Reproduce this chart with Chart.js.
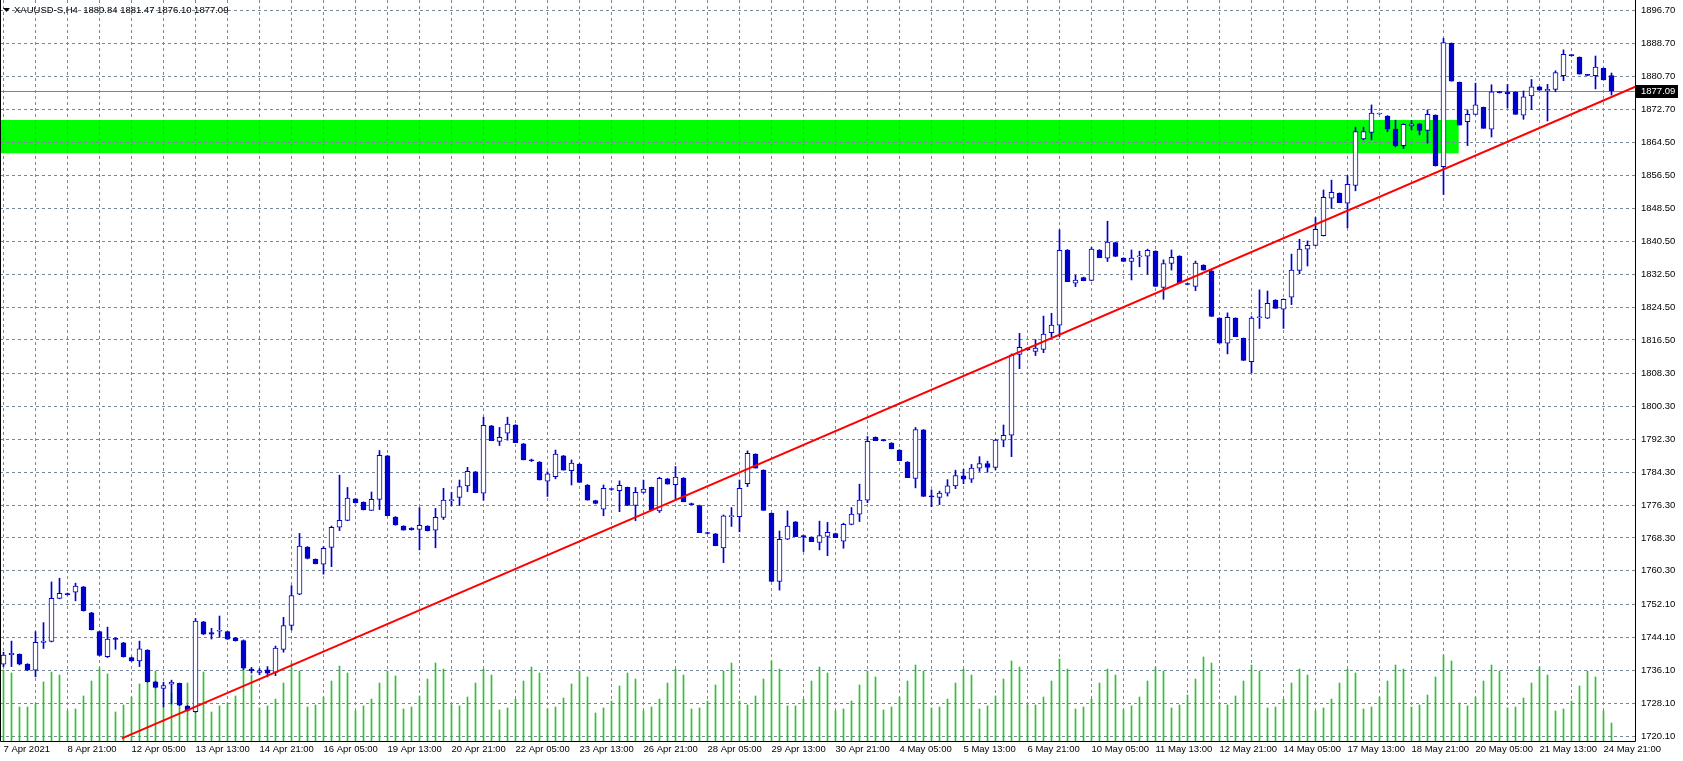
<!DOCTYPE html>
<html>
<head>
<meta charset="utf-8">
<script src="https://cdn.jsdelivr.net/npm/chart.js@4.4.1/dist/chart.umd.min.js"></script>
<style>
  html, body { margin: 0; padding: 0; background: #fff; }
  #wrap { width: 1683px; height: 761px; }
</style>
</head>
<body>
<div id="wrap"><canvas id="chart" width="1683" height="761"></canvas></div>
<script>
var symbolTitle = 'XAUUSD-S,H4  1880.84 1881.47 1876.10 1877.09';

// one label every 8 H4 bars, starting at bar 0
var timeLabels = [
  '7 Apr 2021', '8 Apr 21:00', '12 Apr 05:00', '13 Apr 13:00', '14 Apr 21:00',
  '16 Apr 05:00', '19 Apr 13:00', '20 Apr 21:00', '22 Apr 05:00', '23 Apr 13:00',
  '26 Apr 21:00', '28 Apr 05:00', '29 Apr 13:00', '30 Apr 21:00', '4 May 05:00',
  '5 May 13:00', '6 May 21:00', '10 May 05:00', '11 May 13:00', '12 May 21:00',
  '14 May 05:00', '17 May 13:00', '18 May 21:00', '20 May 05:00', '21 May 13:00',
  '24 May 21:00'
];

var priceTicks = [
  1896.70, 1888.70, 1880.70, 1872.70, 1864.50, 1856.50, 1848.50, 1840.50,
  1832.50, 1824.50, 1816.50, 1808.30, 1800.30, 1792.30, 1784.30, 1776.30,
  1768.30, 1760.30, 1752.10, 1744.10, 1736.10, 1728.10, 1720.10
];

var opens = [
  1737.6, 1739.9, 1740.0, 1737.6, 1736.1, 1742.9, 1743.1, 1753.6, 1754.7, 1755.1,
  1756.4, 1750.1, 1745.5, 1739.4, 1743.9, 1742.8, 1739.2, 1738.4, 1741.0, 1733.3,
  1731.7, 1732.7, 1732.9, 1727.4, 1726.0, 1747.9, 1745.3, 1745.6, 1745.5, 1744.0,
  1743.3, 1736.4, 1735.6, 1736.2, 1735.6, 1741.2, 1747.0, 1754.6, 1766.1, 1763.1,
  1761.9, 1766.0, 1770.9, 1772.6, 1777.8, 1777.0, 1775.0, 1777.7, 1788.3, 1773.4,
  1771.2, 1770.7, 1770.4, 1771.2, 1770.2, 1773.3, 1777.4, 1778.2, 1781.0, 1784.4,
  1779.2, 1795.6, 1791.8, 1793.8, 1795.8, 1791.2, 1787.3, 1786.8, 1782.1, 1783.2,
  1788.3, 1784.7, 1786.3, 1781.2, 1777.4, 1775.3, 1780.2, 1779.8, 1780.6, 1776.2,
  1779.4, 1780.6, 1774.9, 1782.7, 1781.3, 1782.9, 1776.7, 1776.2, 1769.6, 1769.3,
  1765.9, 1773.5, 1773.5, 1781.5, 1788.7, 1784.8, 1774.3, 1757.7, 1768.0, 1772.2,
  1768.9, 1768.5, 1767.2, 1768.7, 1769.4, 1767.5, 1771.6, 1774.1, 1777.5, 1792.8,
  1792.1, 1791.4, 1789.7, 1786.8, 1782.8, 1794.6, 1778.4, 1778.2, 1779.2, 1781.0,
  1783.4, 1782.6, 1785.3, 1786.4, 1785.5, 1792.1, 1793.3, 1813.0, 1814.5, 1813.7,
  1814.2, 1818.3, 1820.1, 1838.4, 1830.3, 1831.7, 1831.0, 1838.4, 1836.4, 1840.2,
  1836.4, 1835.6, 1836.7, 1836.9, 1838.1, 1829.3, 1835.1, 1836.9, 1830.2, 1829.5,
  1834.7, 1833.3, 1821.8, 1815.7, 1821.8, 1816.9, 1811.2, 1821.9, 1821.8, 1826.2,
  1824.0, 1826.9, 1833.4, 1838.6, 1839.5, 1841.9, 1851.0, 1852.2, 1849.8, 1854.1,
  1865.4, 1867.0, 1871.5, 1871.0, 1867.8, 1863.8, 1868.6, 1869.1, 1867.5, 1871.2,
  1858.7, 1888.7, 1879.2, 1869.6, 1871.4, 1873.1, 1867.8, 1876.9, 1876.8, 1876.8,
  1871.2, 1875.9, 1878.1, 1877.1, 1877.5, 1880.8, 1885.8, 1885.3, 1881.0, 1880.8,
  1882.6, 1880.84
];

var highs = [
  1740.5, 1743.2, 1740.1, 1737.7, 1745.5, 1747.7, 1757.6, 1758.5, 1754.9, 1757.3,
  1756.5, 1750.2, 1745.6, 1746.6, 1744.0, 1742.9, 1739.3, 1743.2, 1741.1, 1733.4,
  1733.2, 1733.7, 1733.0, 1727.5, 1748.7, 1748.0, 1746.3, 1749.3, 1745.6, 1744.1,
  1743.5, 1736.8, 1736.5, 1737.0, 1742.0, 1749.0, 1756.7, 1769.4, 1766.2, 1763.2,
  1766.2, 1771.2, 1783.6, 1780.6, 1777.9, 1777.1, 1779.5, 1789.6, 1788.4, 1773.5,
  1771.3, 1770.8, 1775.7, 1771.3, 1775.5, 1780.4, 1779.4, 1782.4, 1785.5, 1784.5,
  1797.7, 1795.7, 1795.2, 1797.7, 1795.9, 1791.3, 1787.5, 1786.9, 1784.4, 1789.7,
  1788.4, 1787.3, 1786.4, 1781.3, 1777.5, 1781.2, 1780.3, 1782.2, 1780.7, 1780.6,
  1782.4, 1780.7, 1783.1, 1782.8, 1785.7, 1783.0, 1776.8, 1776.3, 1769.7, 1769.4,
  1773.9, 1775.7, 1782.4, 1789.5, 1788.8, 1784.9, 1774.4, 1770.0, 1774.9, 1772.3,
  1769.0, 1768.6, 1772.4, 1772.1, 1769.5, 1771.9, 1775.7, 1781.4, 1793.0, 1792.9,
  1792.3, 1791.5, 1789.8, 1786.9, 1795.2, 1794.7, 1780.0, 1779.7, 1782.5, 1784.8,
  1785.0, 1786.2, 1788.1, 1787.0, 1792.3, 1795.8, 1813.1, 1818.1, 1814.6, 1816.6,
  1822.3, 1823.0, 1843.3, 1838.5, 1832.3, 1831.8, 1839.0, 1838.5, 1845.4, 1840.3,
  1836.5, 1838.4, 1838.1, 1838.6, 1838.2, 1836.0, 1838.4, 1837.0, 1830.3, 1835.7,
  1834.8, 1833.4, 1821.9, 1823.1, 1821.9, 1817.0, 1822.2, 1828.7, 1828.4, 1826.3,
  1826.5, 1837.4, 1841.0, 1840.6, 1846.3, 1853.0, 1855.4, 1852.3, 1856.5, 1868.3,
  1868.3, 1873.7, 1871.7, 1871.1, 1870.0, 1869.1, 1869.9, 1869.2, 1872.5, 1871.3,
  1889.9, 1888.8, 1879.3, 1872.5, 1879.0, 1873.2, 1878.6, 1877.0, 1878.7, 1876.9,
  1877.1, 1879.9, 1878.2, 1878.7, 1882.0, 1887.1, 1885.9, 1885.4, 1881.1, 1885.6,
  1882.7, 1881.47
];

var lows = [
  1737.0, 1737.0, 1737.4, 1736.0, 1734.5, 1741.4, 1743.0, 1753.5, 1754.4, 1753.0,
  1750.5, 1745.9, 1739.6, 1739.2, 1741.2, 1739.3, 1738.3, 1737.0, 1733.2, 1731.8,
  1727.2, 1727.9, 1727.5, 1726.2, 1725.9, 1744.8, 1743.7, 1744.1, 1743.6, 1743.2,
  1736.3, 1735.4, 1735.0, 1734.5, 1734.8, 1740.5, 1745.9, 1754.5, 1763.2, 1762.0,
  1759.5, 1761.3, 1770.1, 1772.5, 1776.8, 1775.1, 1775.0, 1775.2, 1773.7, 1771.4,
  1770.2, 1770.2, 1765.4, 1770.0, 1765.9, 1772.8, 1776.2, 1776.2, 1779.6, 1779.3,
  1777.5, 1792.0, 1790.8, 1792.1, 1791.5, 1787.3, 1786.9, 1782.4, 1778.4, 1782.7,
  1784.8, 1781.2, 1781.8, 1777.5, 1776.6, 1773.7, 1779.9, 1774.7, 1776.2, 1772.5,
  1779.2, 1775.1, 1774.5, 1781.4, 1777.5, 1777.1, 1776.4, 1769.6, 1769.3, 1766.4,
  1762.3, 1771.1, 1769.8, 1780.8, 1785.3, 1775.0, 1757.7, 1755.6, 1767.9, 1768.6,
  1765.0, 1767.4, 1765.4, 1764.0, 1768.4, 1765.8, 1771.5, 1772.3, 1776.9, 1792.0,
  1791.9, 1790.0, 1787.1, 1783.0, 1780.5, 1778.4, 1775.9, 1776.4, 1778.5, 1780.3,
  1781.5, 1781.8, 1784.5, 1784.3, 1784.9, 1790.5, 1788.1, 1809.5, 1814.0, 1812.7,
  1813.4, 1817.3, 1817.3, 1830.7, 1829.5, 1830.9, 1830.9, 1836.5, 1835.6, 1836.8,
  1835.6, 1831.1, 1834.3, 1832.5, 1829.5, 1826.4, 1833.5, 1830.4, 1829.9, 1828.5,
  1833.5, 1822.2, 1815.7, 1813.1, 1817.3, 1811.5, 1808.5, 1819.3, 1821.7, 1824.2,
  1819.3, 1825.1, 1832.6, 1834.5, 1839.4, 1841.8, 1848.5, 1849.9, 1843.8, 1852.8,
  1865.2, 1865.2, 1871.4, 1867.2, 1863.5, 1863.1, 1867.6, 1866.4, 1864.4, 1858.8,
  1851.9, 1879.5, 1868.8, 1863.8, 1871.3, 1868.0, 1865.9, 1876.6, 1873.0, 1871.4,
  1870.2, 1872.6, 1877.3, 1869.8, 1876.9, 1879.6, 1885.6, 1881.2, 1880.8, 1877.6,
  1879.8, 1876.10
];

var closes = [
  1739.8, 1740.2, 1737.6, 1736.2, 1742.9, 1743.2, 1753.6, 1754.8, 1754.5, 1756.6,
  1750.6, 1746.0, 1739.7, 1743.7, 1743.6, 1739.4, 1738.4, 1741.3, 1733.3, 1731.9,
  1732.4, 1733.2, 1727.6, 1726.3, 1748.1, 1744.9, 1744.9, 1745.8, 1743.7, 1743.3,
  1736.6, 1736.0, 1736.0, 1735.4, 1741.5, 1747.0, 1754.3, 1766.3, 1763.3, 1762.0,
  1765.8, 1770.9, 1772.6, 1778.0, 1776.9, 1775.2, 1777.7, 1788.4, 1773.7, 1771.5,
  1770.2, 1770.3, 1771.4, 1770.1, 1773.3, 1777.5, 1777.5, 1780.8, 1784.5, 1779.3,
  1795.7, 1792.0, 1792.8, 1796.0, 1791.5, 1787.3, 1787.1, 1782.4, 1783.9, 1788.7,
  1784.8, 1786.5, 1781.8, 1777.5, 1776.7, 1780.4, 1780.1, 1781.1, 1776.2, 1779.4,
  1780.2, 1775.1, 1782.8, 1781.4, 1783.1, 1777.1, 1776.4, 1769.6, 1769.4, 1766.4,
  1773.7, 1773.6, 1780.4, 1788.9, 1785.3, 1775.0, 1757.7, 1768.0, 1771.2, 1768.6,
  1768.5, 1767.4, 1768.9, 1769.7, 1768.4, 1771.6, 1774.1, 1777.5, 1791.8, 1792.0,
  1792.0, 1790.0, 1787.1, 1783.0, 1794.7, 1778.4, 1778.3, 1779.2, 1781.0, 1783.5,
  1782.6, 1785.3, 1786.4, 1785.5, 1792.1, 1793.3, 1812.8, 1814.7, 1814.1, 1814.5,
  1817.9, 1820.1, 1838.3, 1830.7, 1831.1, 1830.9, 1838.6, 1836.5, 1840.3, 1836.8,
  1835.6, 1836.4, 1836.8, 1838.3, 1829.5, 1835.1, 1836.6, 1830.4, 1830.0, 1835.2,
  1833.5, 1822.2, 1815.7, 1822.0, 1817.3, 1811.5, 1821.8, 1822.0, 1825.4, 1824.2,
  1826.4, 1833.5, 1838.6, 1839.5, 1843.4, 1851.2, 1852.4, 1849.9, 1854.4, 1867.2,
  1867.2, 1871.7, 1871.6, 1867.8, 1863.8, 1869.0, 1869.1, 1867.5, 1871.4, 1858.9,
  1888.9, 1879.5, 1868.8, 1871.4, 1873.7, 1868.0, 1876.9, 1876.7, 1876.4, 1871.4,
  1875.7, 1878.1, 1877.3, 1877.5, 1881.6, 1886.0, 1885.7, 1881.2, 1880.9, 1882.9,
  1879.8, 1877.09
];

// tick volume, shown at the foot of the price window
var volumes = [
  7100, 6800, 3400, 3400, 3700, 5900, 6900, 6600, 3000, 3200,
  4500, 6000, 7300, 6700, 2900, 3600, 4400, 5700, 6400, 7000,
  3400, 4800, 4800, 5800, 8000, 6900, 2900, 3500, 3800, 4500,
  7200, 6600, 3300, 3500, 4200, 5800, 7800, 7000, 3400, 3600,
  4400, 6000, 7500, 6800, 3000, 3500, 4200, 5800, 7000, 6500,
  3200, 3400, 4500, 6200, 7800, 7200, 3600, 3500, 4400, 5800,
  7200, 6600, 3100, 3300, 4200, 6000, 7400, 6800, 3200, 3400,
  4300, 5700, 7000, 6400, 2800, 3300, 4000, 5500, 6800, 6200,
  3000, 3400, 4200, 5800, 7200, 6600, 3200, 3300, 4000, 5600,
  7000, 7800, 4000, 3600, 4500, 6200, 8000, 7200, 3500, 3500,
  4200, 6000, 7400, 6800, 3000, 3200, 4000, 5600, 7000, 6400,
  3100, 3400, 4400, 6000, 7600, 7000, 3300, 3400, 4200, 5800,
  7200, 6600, 3200, 3500, 4500, 6200, 8000, 7400, 3600, 3600,
  4400, 6000, 8200, 7200, 3200, 3400, 4200, 5800, 7200, 6600,
  3100, 3500, 4400, 6000, 7400, 7000, 3300, 3600, 4600, 6200,
  8400, 7800, 3800, 3600, 4500, 6000, 7600, 7000, 3300, 3400,
  4200, 5800, 7200, 6600, 3000, 3300, 4200, 5800, 7200, 6800,
  3200, 3400, 4400, 6000, 7600, 7200, 3400, 3600, 4600, 6400,
  8600, 8000, 3800, 3500, 4400, 6000, 7600, 7000, 3300, 3400,
  4300, 5800, 7400, 6600, 3000, 3200, 4000, 5500, 7000, 6400,
  3000, 1800
];

var trendBars = [14.8, 204.0];
var trendPrices = [1719.54, 1878.14];
var zoneBars = [-1, 181.9];
var zonePrices = [1861.93, 1870.03];
var lastPrice = 1877.09;

var candleBlue = '#0000cd';
var gridGrey = 'rgb(119,136,153)';
var volumeGreen = 'rgb(50,190,50)';
var axisFont = { family: '"Liberation Sans", Arial, sans-serif', size: 9.5 };

var barIndex = opens.map(function (o, i) { return i; });

var wickData = barIndex.map(function (i) { return { x: i, y: [lows[i], highs[i]] }; });
var bodyData = barIndex.map(function (i) { return { x: i, y: [opens[i], closes[i]] }; });
var bodyFill = barIndex.map(function (i) { return closes[i] >= opens[i] ? '#ffffff' : candleBlue; });
var volumeData = barIndex.map(function (i) { return { x: i, y: volumes[i] }; });
var trendData = trendBars.map(function (b, i) { return { x: b, y: trendPrices[i] }; });

var overlays = {
  id: 'overlays',
  beforeDraw: function (chart) {
    // green zone sits under the grid
    var ctx = chart.ctx, area = chart.chartArea;
    var xs = chart.scales.x, ys = chart.scales.y;
    ctx.save();
    ctx.beginPath();
    ctx.rect(area.left, area.top, area.right - area.left, area.bottom - area.top);
    ctx.clip();
    var x0 = xs.getPixelForValue(zoneBars[0]);
    var x1 = xs.getPixelForValue(zoneBars[1]);
    var y0 = ys.getPixelForValue(zonePrices[1]);
    var y1 = ys.getPixelForValue(zonePrices[0]);
    ctx.fillStyle = '#00ff00';
    ctx.fillRect(x0, y0, x1 - x0, y1 - y0);
    ctx.restore();
  },
  beforeDatasetsDraw: function (chart) {
    var ctx = chart.ctx, area = chart.chartArea;
    var y = Math.round(chart.scales.y.getPixelForValue(lastPrice)) + 0.5;
    ctx.save();
    ctx.strokeStyle = gridGrey;
    ctx.lineWidth = 1;
    ctx.beginPath();
    ctx.moveTo(area.left, y);
    ctx.lineTo(area.right, y);
    ctx.stroke();
    ctx.restore();
  },
  afterDraw: function (chart) {
    var ctx = chart.ctx, area = chart.chartArea;
    ctx.save();
    // frame
    ctx.strokeStyle = '#000';
    ctx.lineWidth = 1;
    ctx.beginPath();
    ctx.moveTo(area.left + 0.5, area.top);
    ctx.lineTo(area.left + 0.5, area.bottom + 0.5);
    ctx.lineTo(area.right + 0.5, area.bottom + 0.5);
    ctx.lineTo(area.right + 0.5, area.top);
    ctx.stroke();

    // title
    ctx.fillStyle = '#000';
    ctx.beginPath();
    ctx.moveTo(3, 8);
    ctx.lineTo(10, 8);
    ctx.lineTo(6.5, 12);
    ctx.closePath();
    ctx.fill();
    ctx.font = '9.5px "Liberation Sans", Arial, sans-serif';
    ctx.textBaseline = 'middle';
    ctx.textAlign = 'left';
    ctx.fillText(symbolTitle, 14, 10);

    // current price tag
    var y = Math.round(chart.scales.y.getPixelForValue(lastPrice));
    ctx.fillStyle = '#000';
    ctx.fillRect(area.right + 1, y - 6, 42, 13);
    ctx.fillStyle = '#fff';
    ctx.fillText(lastPrice.toFixed(2), area.right + 6, y + 0.5);
    ctx.restore();
  }
};

var ctx = document.getElementById('chart').getContext('2d');
var chart = new Chart(ctx, {
  type: 'bar',
  data: {
    datasets: [
      {
        type: 'line',
        data: trendData,
        borderColor: '#ff0000',
        borderWidth: 2,
        pointRadius: 0,
        yAxisID: 'y',
        order: 0
      },
      {
        data: bodyData,
        backgroundColor: bodyFill,
        borderColor: candleBlue,
        borderWidth: 1,
        borderSkipped: false,
        barThickness: 5,
        minBarLength: 1,
        grouped: false,
        yAxisID: 'y',
        order: 1
      },
      {
        data: wickData,
        backgroundColor: candleBlue,
        borderWidth: 0,
        barThickness: 1,
        grouped: false,
        yAxisID: 'y',
        order: 2
      },
      {
        data: volumeData,
        backgroundColor: volumeGreen,
        borderWidth: 0,
        barThickness: 1,
        grouped: false,
        yAxisID: 'yv',
        order: 3
      }
    ]
  },
  options: {
    responsive: false,
    animation: false,
    devicePixelRatio: 1,
    layout: { padding: 0 },
    plugins: { legend: { display: false }, tooltip: { enabled: false } },
    scales: {
      x: {
        type: 'linear',
        min: -0.4375,
        max: 203.9375,
        offset: false,
        afterBuildTicks: function (scale) {
          var t = [];
          for (var b = 0; b <= 200; b += 4) { t.push({ value: b }); }
          scale.ticks = t;
        },
        afterFit: function (scale) {
          scale.height = 20;
          scale.paddingLeft = 0;
          scale.paddingRight = 0;
        },
        ticks: {
          autoSkip: false,
          maxRotation: 0,
          align: 'start',
          padding: 3,
          color: '#000',
          font: axisFont,
          callback: function (value) {
            return value % 8 === 0 ? timeLabels[value / 8] : '';
          }
        },
        grid: { color: gridGrey, lineWidth: 1, drawTicks: false, offset: false },
        border: { display: false, dash: [3, 3] }
      },
      y: {
        position: 'right',
        min: 1718.885,
        max: 1899.24,
        afterBuildTicks: function (scale) {
          scale.ticks = priceTicks.map(function (v) { return { value: v }; });
        },
        afterFit: function (scale) {
          scale.width = 48;
          scale.paddingTop = 0;
          scale.paddingBottom = 0;
        },
        ticks: {
          crossAlign: 'near',
          padding: 6,
          color: '#000',
          font: axisFont,
          callback: function (value) { return value.toFixed(2); }
        },
        grid: { color: gridGrey, lineWidth: 1, drawTicks: false },
        border: { display: false, dash: [3, 3] }
      },
      yv: {
        display: false,
        min: 0,
        max: 74100
      }
    }
  },
  plugins: [overlays]
});
</script>
</body>
</html>
